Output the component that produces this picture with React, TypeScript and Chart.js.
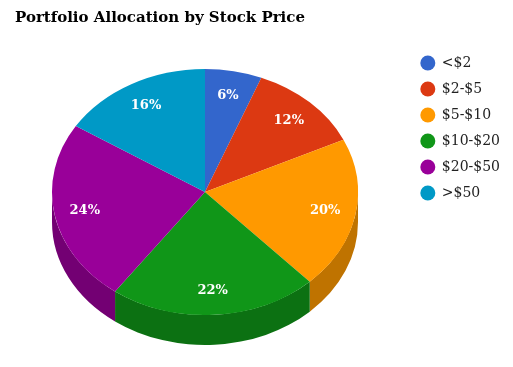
import { useEffect, useRef } from "react";
import { Chart, registerables } from "chart.js";

Chart.register(...registerables);

const titleText = "Portfolio Allocation by Stock Price";
const categories = ["<$2", "$2-$5", "$5-$10", "$10-$20", "$20-$50", ">$50"];
const values = [6, 12, 20, 22, 24, 16];
const topColors = ["#3366cc", "#dc3912", "#ff9900", "#109618", "#990099", "#0099c6"];
const sideColors = ["#264c99", "#a52b0e", "#bf7300", "#0c7112", "#730073", "#007394"];

const FONT = "'DejaVu Serif', Georgia, serif";
const PIE_CX = 197;
const PIE_CY = 184;
const PIE_RX = 153;
const PIE_RY = 123;
const PIE_DEPTH = 30;
const LABEL_R = 0.8;

const pie3d = {
  id: "pie3d",
  beforeDatasetsDraw(chart: any) {
    const meta = chart.getDatasetMeta(0);
    const arcs = meta.data as any[];
    const ctx = chart.ctx as CanvasRenderingContext2D;
    ctx.save();
    if (!arcs.length) return;
    const { x, y, outerRadius } = arcs[0].getProps(["x", "y", "outerRadius"], true);
    arcs.forEach((arc, i) => {
      const { startAngle, endAngle } = arc.getProps(["startAngle", "endAngle"], true);
      const a1 = Math.max(startAngle, 0);
      const a2 = Math.min(endAngle, Math.PI);
      if (a2 <= a1) return;
      ctx.beginPath();
      ctx.ellipse(PIE_CX, PIE_CY, PIE_RX, PIE_RY, 0, a1, a2, false);
      ctx.ellipse(PIE_CX, PIE_CY + PIE_DEPTH, PIE_RX, PIE_RY, 0, a2, a1, true);
      ctx.closePath();
      ctx.fillStyle = sideColors[i];
      ctx.fill();
    });
    ctx.translate(PIE_CX, PIE_CY);
    ctx.scale(PIE_RX / outerRadius, PIE_RY / outerRadius);
    ctx.translate(-x, -y);
  },
  afterDatasetsDraw(chart: any) {
    const ctx = chart.ctx as CanvasRenderingContext2D;
    ctx.restore();
    const meta = chart.getDatasetMeta(0);
    const arcs = meta.data as any[];
    const total = values.reduce((a, b) => a + b, 0);
    ctx.save();
    ctx.fillStyle = "#ffffff";
    ctx.font = `bold 13px ${FONT}`;
    ctx.textAlign = "center";
    ctx.textBaseline = "middle";
    arcs.forEach((arc, i) => {
      const { startAngle, endAngle } = arc.getProps(["startAngle", "endAngle"], true);
      const mid = (startAngle + endAngle) / 2;
      const lx = PIE_CX + Math.cos(mid) * PIE_RX * LABEL_R;
      const ly = PIE_CY + Math.sin(mid) * PIE_RY * LABEL_R;
      ctx.fillText(Math.round((values[i] / total) * 100) + "%", lx, ly);
    });
    ctx.restore();
  },
};

export default function App() {
  const ref = useRef<HTMLCanvasElement | null>(null);
  useEffect(() => {
    if (!ref.current) return;
    const chart = new Chart(ref.current, {
      type: "pie",
      data: {
        labels: categories,
        datasets: [
          {
            data: values,
            backgroundColor: topColors,
            borderWidth: 0,
            hoverOffset: 0,
          },
        ],
      },
      options: {
        animation: false,
        responsive: true,
        maintainAspectRatio: false,
        layout: { padding: { left: 7, right: -5, top: 0, bottom: 0 } },
        plugins: {
          tooltip: { enabled: false },
          title: {
            display: true,
            text: titleText,
            align: "start",
            color: "#000000",
            font: { family: FONT, size: 15, weight: "bold" },
            padding: { top: 1, bottom: 10 },
          },
          legend: {
            position: "right",
            align: "start",
            title: {
              display: true,
              text: "",
              font: { size: 10 },
              padding: { top: 24, bottom: 0 },
            },
            labels: {
              usePointStyle: true,
              pointStyle: "circle",
              boxHeight: 10.6,
              boxWidth: 14,
              padding: 12,
              color: "#222222",
              font: { family: FONT, size: 14 },
            },
          },
        },
      },
      plugins: [pie3d],
    });
    return () => chart.destroy();
  }, []);
  return (
    <div style={{ position: "relative", width: "497px", height: "351px" }}>
      <canvas ref={ref} style={{ display: "block" }} />
    </div>
  );
}
